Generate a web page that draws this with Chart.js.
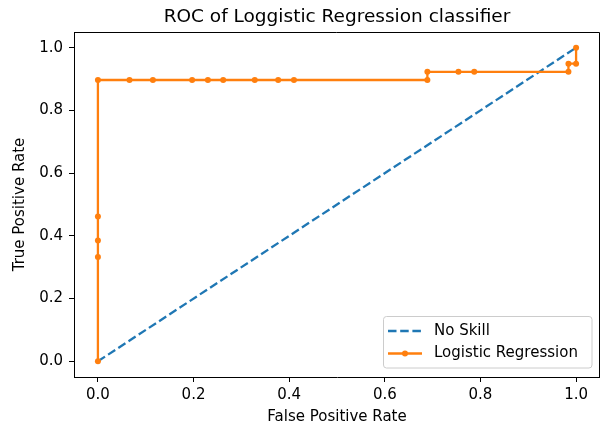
<!DOCTYPE html>
<html>
<head>
<meta charset="utf-8">
<title>ROC of Loggistic Regression classifier</title>
<script src="https://cdn.jsdelivr.net/npm/chart.js@4.4.1/dist/chart.umd.min.js"></script>
<style>
  html, body { margin: 0; padding: 0; background: #fff; }
  #wrap { width: 600px; height: 428px; }
</style>
</head>
<body>
<div id="wrap"><canvas id="myChart" width="600" height="428"></canvas></div>
<script>
// -----DATA-----
var fprNoSkill = [0, 1];
var tprNoSkill = [0, 1];

var fprLogistic = [0, 0, 0, 0, 0, 0.066, 0.115, 0.197, 0.230, 0.262, 0.328, 0.377, 0.410,
                   0.689, 0.689, 0.754, 0.787, 0.984, 0.984, 1.0, 1.0];
var tprLogistic = [0, 0.333, 0.385, 0.462, 0.897, 0.897, 0.897, 0.897, 0.897, 0.897, 0.897, 0.897, 0.897,
                   0.897, 0.923, 0.923, 0.923, 0.923, 0.949, 0.949, 1.0];

var xTicks = [0, 0.2, 0.4, 0.6, 0.8, 1.0];
var yTicks = [0, 0.2, 0.4, 0.6, 0.8, 1.0];
var seriesLabels = ['No Skill', 'Logistic Regression'];
var chartTitle = 'ROC of Loggistic Regression classifier';

function toPoints(xs, ys) {
    return xs.map(function(x, i) { return {x: x, y: ys[i]}; });
}

Chart.defaults.font.family = "'DejaVu Sans', sans-serif";
Chart.defaults.color = '#000';

// khung tren + phai (matplotlib spines)
var framePlugin = {
    id: 'frame',
    afterDraw: function(chart) {
        var a = chart.chartArea, ctx = chart.ctx;
        ctx.save();
        ctx.strokeStyle = '#000';
        ctx.lineWidth = 1;
        ctx.beginPath();
        ctx.moveTo(a.left, a.top + 0.5);
        ctx.lineTo(a.right - 0.5, a.top + 0.5);
        ctx.lineTo(a.right - 0.5, a.bottom);
        ctx.stroke();
        ctx.restore();
    }
};

// legend o goc duoi ben phai
var legendPlugin = {
    id: 'boxLegend',
    afterDatasetsDraw: function(chart) {
        var ctx = chart.ctx;
        var x0 = 383.5, y0 = 316.5, w = 208.5, h = 51.5, r = 3;
        ctx.save();
        ctx.beginPath();
        ctx.moveTo(x0 + r, y0);
        ctx.arcTo(x0 + w, y0, x0 + w, y0 + h, r);
        ctx.arcTo(x0 + w, y0 + h, x0, y0 + h, r);
        ctx.arcTo(x0, y0 + h, x0, y0, r);
        ctx.arcTo(x0, y0, x0 + w, y0, r);
        ctx.closePath();
        ctx.fillStyle = 'rgba(255,255,255,0.8)';
        ctx.fill();
        ctx.strokeStyle = '#cccccc';
        ctx.lineWidth = 1;
        ctx.stroke();

        var rows = [331, 353.5];
        chart.data.datasets.forEach(function(ds, i) {
            var y = rows[i];
            ctx.beginPath();
            ctx.setLineDash(ds.borderDash || []);
            ctx.strokeStyle = ds.borderColor;
            ctx.lineWidth = ds.borderWidth;
            ctx.moveTo(388, y);
            ctx.lineTo(422, y);
            ctx.stroke();
            ctx.setLineDash([]);
            if (ds.pointRadius > 0) {
                ctx.beginPath();
                ctx.fillStyle = ds.pointBackgroundColor;
                ctx.arc(405, y, ds.pointRadius, 0, Math.PI * 2);
                ctx.fill();
            }
            ctx.fillStyle = '#000';
            ctx.font = "15px 'DejaVu Sans', sans-serif";
            ctx.textBaseline = 'middle';
            ctx.textAlign = 'left';
            ctx.fillText(ds.label, 434, y);
        });
        ctx.restore();
    }
};

var ctx = document.getElementById('myChart').getContext('2d');
var chart = new Chart(ctx, {
    type: 'scatter',
    data: {
        datasets: [{
            label: seriesLabels[0],
            data: toPoints(fprNoSkill, tprNoSkill),
            showLine: true,
            borderColor: '#1f77b4',
            borderWidth: 2.3,
            borderDash: [8.5, 3.7],
            pointRadius: 0,
            order: 1
        }, {
            label: seriesLabels[1],
            data: toPoints(fprLogistic, tprLogistic),
            showLine: true,
            borderColor: '#ff7f0e',
            borderWidth: 2.3,
            pointRadius: 3,
            pointBorderWidth: 0,
            pointBackgroundColor: '#ff7f0e',
            order: 0
        }]
    },
    options: {
        responsive: false,
        animation: false,
        devicePixelRatio: 1,
        layout: { padding: 0, autoPadding: false },
        plugins: {
            legend: { display: false },
            tooltip: { enabled: false }
        },
        scales: {
            // truc tren chi de dat tieu de giua vung ve
            top: {
                type: 'linear',
                position: 'top',
                axis: 'x',
                min: -0.05,
                max: 1.05,
                ticks: { display: false },
                grid: { display: false },
                border: { display: false },
                afterFit: function(scale) {
                    scale.height = 32;
                    scale.paddingLeft = 0;
                    scale.paddingRight = 0;
                },
                title: {
                    display: true,
                    text: chartTitle,
                    font: { size: 18.5 },
                    padding: { top: 6, bottom: 0 }
                }
            },
            x: {
                type: 'linear',
                min: -0.05,
                max: 1.05,
                afterBuildTicks: function(scale) {
                    scale.ticks = xTicks.map(function(v) { return {value: v}; });
                },
                afterFit: function(scale) {
                    scale.height = 51;
                    scale.paddingLeft = 0;
                    scale.paddingRight = 0;
                },
                ticks: {
                    font: { size: 15 },
                    padding: 4,
                    maxRotation: 0,
                    callback: function(v) { return v.toFixed(1); }
                },
                grid: { drawOnChartArea: false, drawTicks: true, tickLength: 5, tickColor: '#000' },
                border: { display: true, color: '#000', width: 1 },
                title: {
                    display: true,
                    text: 'False Positive Rate',
                    font: { size: 15 },
                    padding: { top: 0, bottom: 2 }
                }
            },
            y: {
                type: 'linear',
                min: -0.05,
                max: 1.05,
                afterBuildTicks: function(scale) {
                    scale.ticks = yTicks.map(function(v) { return {value: v}; });
                },
                afterFit: function(scale) {
                    scale.width = 74;
                    scale.paddingTop = 0;
                    scale.paddingBottom = 0;
                },
                ticks: {
                    font: { size: 15 },
                    padding: 6,
                    callback: function(v) { return v.toFixed(1); }
                },
                grid: { drawOnChartArea: false, drawTicks: true, tickLength: 5, tickColor: '#000' },
                border: { display: true, color: '#000', width: 1 },
                title: {
                    display: true,
                    text: 'True Positive Rate',
                    font: { size: 15 },
                    padding: { top: 11, bottom: 0 }
                }
            }
        }
    },
    plugins: [framePlugin, legendPlugin]
});
</script>
</body>
</html>
